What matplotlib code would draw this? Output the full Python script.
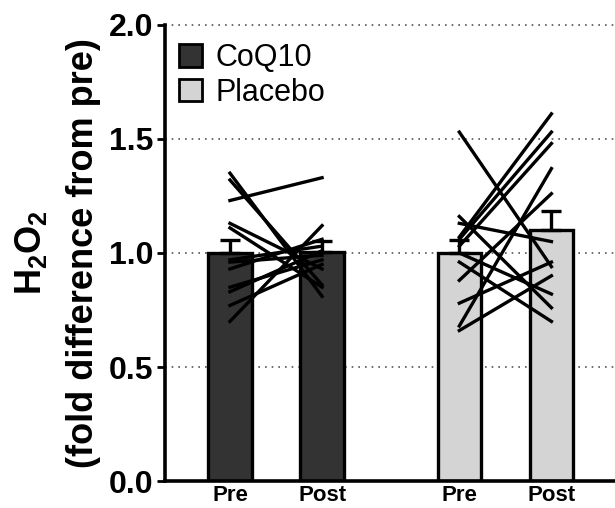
import numpy as np
import matplotlib.pyplot as plt
from matplotlib.patches import Patch

plt.rcParams['font.family'] = ['Liberation Sans', 'DejaVu Sans']
plt.rcParams['mathtext.fontset'] = 'custom'
plt.rcParams['mathtext.rm'] = 'Liberation Sans'
plt.rcParams['mathtext.bf'] = 'Liberation Sans:bold'

# bar positions / labels
groups = ['CoQ10', 'Placebo']
times = ['Pre', 'Post', 'Pre', 'Post']
xpos = [0, 1, 2.49, 3.49]

# bar means and SEM (fold difference from pre)
means = [1.00, 1.005, 1.00, 1.10]
sems = [0.055, 0.048, 0.055, 0.085]

# individual subjects, pre -> post
coq_pre = [1.35, 1.32, 1.23, 1.13, 1.11, 0.97, 0.96, 0.93, 0.85, 0.83, 0.77, 0.70]
coq_post = [0.81, 0.86, 1.33, 0.93, 0.85, 1.03, 0.99, 1.06, 0.97, 1.01, 0.95, 1.12]
pla_pre = [1.53, 1.16, 1.13, 1.07, 1.06, 1.03, 1.00, 0.96, 0.88, 0.78, 0.68, 0.66]
pla_post = [0.94, 0.76, 1.05, 1.61, 1.53, 1.48, 0.82, 0.70, 1.26, 0.96, 1.37, 0.90]

colors = ['#333333', '#333333', '#d4d4d4', '#d4d4d4']

fig = plt.figure(figsize=(6.15, 5.08), dpi=100)
ax = fig.add_axes([0.268, 0.053, 0.732, 0.898])

for y in [0.5, 1.0, 1.5, 2.0]:
    ax.axhline(y, color='#555555', linestyle=(0, (1, 3)), linewidth=1.2, zorder=0, clip_on=False)

ax.bar(xpos, means, width=0.47, color=colors, edgecolor='black', linewidth=2.4, zorder=2)
ax.errorbar(xpos, means, yerr=[[0] * 4, sems], fmt='none', ecolor='black',
            elinewidth=2.4, capsize=7, capthick=2.4, zorder=3)

for a, b in zip(coq_pre, coq_post):
    ax.plot([xpos[0], xpos[1]], [a, b], color='black', linewidth=2.4, zorder=4)
for a, b in zip(pla_pre, pla_post):
    ax.plot([xpos[2], xpos[3]], [a, b], color='black', linewidth=2.4, zorder=4)

ax.set_xlim(-0.707, 4.18)
ax.set_ylim(0, 2.0)
ax.set_yticks([0, 0.5, 1.0, 1.5, 2.0])
ax.set_yticklabels(['0.0', '0.5', '1.0', '1.5', '2.0'], fontsize=23, fontweight='bold')
ax.set_xticks(xpos)
ax.set_xticklabels(times, fontsize=16, fontweight='bold')
ax.tick_params(axis='x', length=0, pad=3)
ax.tick_params(axis='y', length=6, width=2, pad=2)

for s in ['top', 'right']:
    ax.spines[s].set_visible(False)
for s in ['left', 'bottom']:
    ax.spines[s].set_linewidth(2.6)

fig.text(0.050, 0.502, r'$\mathbf{H_2O_2}$', rotation=90, ha='center', va='center', fontsize=26)
fig.text(0.135, 0.502, '(fold difference from pre)', rotation=90, ha='center', va='center',
         fontsize=26, fontweight='bold')

handles = [Patch(facecolor=colors[0], edgecolor='black', linewidth=2),
           Patch(facecolor=colors[2], edgecolor='black', linewidth=2)]
ax.legend(handles, groups, loc='upper left', bbox_to_anchor=(-0.01, 1.0), frameon=False,
          fontsize=22, handlelength=0.75, handleheight=0.75, handletextpad=0.45,
          labelspacing=0.15, borderaxespad=0.2)

fig.savefig('out.png', dpi=100)
